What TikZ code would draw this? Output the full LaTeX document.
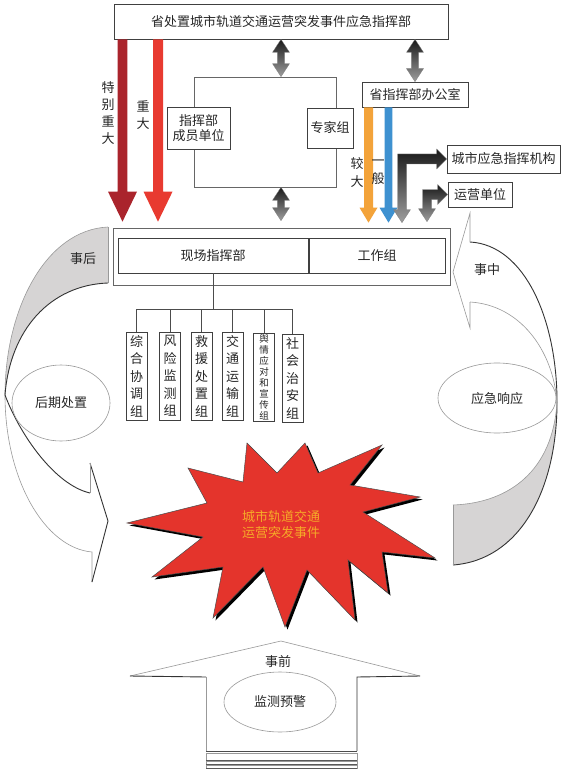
\documentclass[tikz,border=0pt]{standalone}
\usepackage{fontspec}
\newfontfamily\cjk{Noto Sans CJK SC}
\usetikzlibrary{calc}
\definecolor{arrDarkRed}{RGB}{170,36,44}
\definecolor{arrRed}{RGB}{232,58,48}
\definecolor{arrOrange}{RGB}{243,163,58}
\definecolor{arrBlue}{RGB}{62,145,208}
\definecolor{starRed}{RGB}{228,52,44}
\definecolor{starText}{RGB}{246,170,40}
\definecolor{crescentGray}{RGB}{214,212,212}
% single vertical arrow: style, start, tip, shaft half, head half, head length
\newcommand\myvarrow[6]{%
  \path[#1] let \p1=(#2), \p2=(#3) in
   (\x1-#4,\y1) -- (\x1+#4,\y1) -- (\x1+#4,\y2+#6) -- (\x1+#5,\y2+#6) -- (\x1,\y2)
   -- (\x1-#5,\y2+#6) -- (\x1-#4,\y2+#6) -- cycle;}
% double vertical arrow: style, top tip, bottom tip, shaft half, head half, head length
\newcommand\mydblarrow[6]{%
  \path[#1] let \p1=(#2), \p2=(#3) in
   (\x1,\y1) -- (\x1+#5,\y1-#6) -- (\x1+#4,\y1-#6) -- (\x1+#4,\y2+#6) -- (\x1+#5,\y2+#6)
   -- (\x1,\y2) -- (\x1-#5,\y2+#6) -- (\x1-#4,\y2+#6) -- (\x1-#4,\y1-#6) -- (\x1-#5,\y1-#6) -- cycle;}
% elbow arrow: style, corner, right tip, bottom tip
\newcommand\myelbow[4]{%
  \path[#1] let \p1=(#2), \p2=(#3), \p3=(#4) in
   (\x1-4.5pt,\y1+5pt) -- (\x2-10pt,\y1+5pt) -- (\x2-10pt,\y1+10pt) -- (\x2,\y1)
   -- (\x2-10pt,\y1-10pt) -- (\x2-10pt,\y1-5pt) -- (\x1+4.5pt,\y1-5pt)
   -- (\x1+4.5pt,\y3+13pt) -- (\x1+8.5pt,\y3+13pt) -- (\x1,\y3) -- (\x1-8.5pt,\y3+13pt)
   -- (\x1-4.5pt,\y3+13pt) -- cycle;}
\begin{document}
\begin{tikzpicture}[x=1pt,y=-1pt,
  every node/.style={font=\cjk\fontsize{13}{15}\selectfont, text=black!85},
  box/.style={draw=black!75, line width=0.7pt, fill=white, inner sep=0pt, align=center},
  vbox/.style={box, minimum width=21pt, minimum height=88pt, font=\cjk\fontsize{13}{17.5}\selectfont},
  lbl/.style={inner sep=0pt, align=center, font=\cjk\fontsize{13}{17}\selectfont},
  edgeLight/.style={draw=black!40, line width=0.6pt},
  edgeDark/.style={draw=black!80, line width=0.9pt},
  grayArrow/.style={top color=black!90, bottom color=black!38, draw=black!50, line width=0.3pt},
  tree/.style={draw=black!70, line width=0.7pt},
  ell/.style={draw=black!40, line width=0.6pt}
]
\useasboundingbox (0,0) rectangle (568,770);
\fill[white] (0,0) rectangle (568,770);

% ---------- left curved arrow (after) ----------
\fill[white] (5,395) .. controls (5,480) and (45,548) .. (92,552) -- (92,582) -- (108,521)
  -- (90,463) -- (90,493) .. controls (55,485) and (20,435) .. (5,395) -- cycle;
\fill[crescentGray] (108,227) .. controls (45,230) and (5,310) .. (5,395)
  .. controls (10,330) and (50,285) .. (108,283) -- cycle;
\path[edgeLight] (108,227) .. controls (45,230) and (5,310) .. (5,395)
  .. controls (5,480) and (45,548) .. (92,552) -- (92,582);
\path[edgeDark] (108,283) .. controls (50,285) and (10,330) .. (5,395)
  .. controls (20,435) and (55,485) .. (90,493);
\path[edgeDark] (90,463) -- (108,521) -- (92,582);
\path[edgeLight] (90,463) -- (90,493);
\path[edgeLight] (108,227) -- (108,283);

% ---------- right curved arrow (during) ----------
\fill[white] (470,242) .. controls (525,245) and (557,320) .. (557,402)
  .. controls (553,350) and (520,305) .. (470,302) -- (470,328) -- (453,272) -- (470,213) -- cycle;
\fill[crescentGray] (557,402) .. controls (557,490) and (520,560) .. (453,565) -- (453,505)
  .. controls (510,503) and (553,470) .. (557,402) -- cycle;
\path[edgeDark] (470,242) .. controls (525,245) and (557,320) .. (557,402)
  .. controls (557,490) and (520,560) .. (453,565);
\path[edgeLight] (470,302) .. controls (520,305) and (553,350) .. (557,402);
\path[edgeLight] (453,505) .. controls (510,503) and (553,470) .. (557,402);
\path[edgeLight] (470,242) -- (470,213) -- (453,272) -- (470,328) -- (470,302);
\path[edgeLight] (453,505) -- (453,565);

% ---------- bottom house arrow (before) ----------
\fill[white] (206,750) -- (206,677) -- (130,676) -- (281,641) -- (420,676) -- (357,677) -- (357,750) -- cycle;
\path[edgeLight] (130,676) -- (281,641) -- (420,676);
\path[edgeDark] (130,676) -- (206,677);
\path[edgeDark] (420,676) -- (357,677) -- (357,751);
\path[edgeLight] (206,677) -- (206,751);
\path[draw=black!70, line width=0.8pt] (206,751) -- (357,751);
\foreach \ya/\yb in {753/760, 761.5/764.5, 765.5/768}{
  \path[fill=white, draw=black!40, line width=0.5pt] (206,\ya) rectangle (357,\yb);
  \path[draw=black!65, line width=0.6pt] (206,\yb) -- (357,\yb);
}

% ---------- ellipses ----------
\draw[ell] (61,403) ellipse [x radius=49pt, y radius=38pt];
\node (hq) at (61,403) {后期处置};
\draw[ell] (497,398) ellipse [x radius=59pt, y radius=35pt];
\node (yj) at (497,399) {应急响应};
\draw[ell] (280,702) ellipse [x radius=56pt, y radius=30pt];
\node (jc) at (280,702) {监测预警};
\node (sh) at (83,259) {事后};
\node (sz) at (487,270) {事中};
\node (sq) at (278,662) {事前};

% ---------- boxes ----------
\node[box, minimum width=334pt, minimum height=35pt] (top) at (281,21.5) {省处置城市轨道交通运营突发事件应急指挥部};
\node[draw=black!60, line width=0.6pt, minimum width=142pt, minimum height=110pt, inner sep=0pt] (ctr) at (265,132) {};
\node[box, minimum width=63pt, minimum height=42pt] (mem) at (198.5,128) {指挥部\\成员单位};
\node[box, minimum width=46pt, minimum height=40pt] (exp) at (330,128) {专家组};
\node[box, minimum width=106pt, minimum height=25pt] (off) at (415,94.5) {省指挥部办公室};
\node[box, minimum width=113pt, minimum height=28pt] (city) at (503.5,159) {城市应急指挥机构};
\node[box, minimum width=64pt, minimum height=25pt] (op) at (480,194.5) {运营单位};
\node[draw=black!60, line width=0.7pt, fill=white, minimum width=337pt, minimum height=57pt, inner sep=0pt] (site) at (281.5,256.5) {};
\node[box, line width=0.9pt, minimum width=190pt, minimum height=35pt] (xc) at (213,255.5) {现场指挥部};
\node[box, line width=0.9pt, minimum width=136pt, minimum height=35pt] (gz) at (377,255.5) {工作组};

% ---------- working groups ----------
\node[vbox] (g1) at (136.5,376) {综\\合\\协\\调\\组};
\node[vbox] (g2) at (170,376) {风\\险\\监\\测\\组};
\node[vbox] (g3) at (201.5,376) {救\\援\\处\\置\\组};
\node[vbox] (g4) at (232.5,376) {交\\通\\运\\输\\组};
\node[vbox, font=\cjk\fontsize{9.5}{11}\selectfont] (g5) at (264,377) {舆\\情\\应\\对\\和\\宣\\传\\组};
\node[vbox] (g6) at (292.5,378) {社\\会\\治\\安\\组};
\coordinate (bus) at (213,309);
\path[tree] (xc.south) -- (bus);
\path[tree] (g1.north) -- (g1.north |- bus) -- (g6.north |- bus) -- (g6.north);
\foreach \g in {g2,g3,g4,g5}{\path[tree] (\g.north) -- (\g.north |- bus);}

% ---------- coloured arrows ----------
\coordinate (xdr) at (122.5,0);
\coordinate (xr) at (158,0);
\coordinate (xo) at (368.5,0);
\coordinate (xb) at (388.5,0);
\myvarrow{fill=arrDarkRed}{top.south -| xdr}{$(site.north -| xdr)+(0,-6)$}{4.8pt}{14.5pt}{30pt}
\myvarrow{fill=arrRed}{top.south -| xr}{$(site.north -| xr)+(0,-6)$}{5pt}{14.5pt}{30pt}
\myvarrow{fill=arrOrange}{off.south -| xo}{$(site.north -| xo)+(0,-5)$}{4.5pt}{9pt}{15pt}
\myvarrow{fill=arrBlue}{off.south -| xb}{$(site.north -| xb)+(0,-5)$}{3.8pt}{9pt}{15pt}
\node[lbl] (l1) at (108,113) {特\\别\\重\\大};
\node[lbl] (l2) at (143,115) {重\\大};
\node[lbl, font=\cjk\fontsize{13}{18}\selectfont] (l3) at (357,173) {较\\大};
\node[lbl, font=\cjk\fontsize{13}{18}\selectfont] (l4) at (378,172) {一\\般};

% ---------- gray double arrows ----------
\coordinate (xa) at (281,0);
\mydblarrow{grayArrow}{top.south -| xa}{ctr.north -| xa}{3.7pt}{8.5pt}{13pt}
\mydblarrow{grayArrow}{ctr.south -| xa}{$(site.north -| xa)+(0,-7)$}{3.7pt}{8.5pt}{13pt}
\mydblarrow{grayArrow}{top.south -| off.north}{off.north}{3.7pt}{8.5pt}{13pt}

% ---------- elbow arrows ----------
\coordinate (e1) at (402,0);
\coordinate (e2) at (427,0);
\myelbow{grayArrow}{e1 |- city.west}{city.west}{$(site.north -| e1)+(0,-5)$}
\myelbow{grayArrow}{e2 |- op.west}{op.west}{$(site.north -| e2)+(0,-6)$}

% ---------- star (incident) ----------
\begin{scope}[shift={(2.5,2.5)}]
\fill[black] (127,523) -- (207,503) -- (188,468) -- (243,482) -- (247,443) -- (277,473) -- (305,443) -- (318,473) -- (382,445) -- (350,485) -- (420,497) -- (363,512) -- (435,558) -- (382,552) -- (388,593) -- (348,560) -- (355,620) -- (307,570) -- (285,627) -- (263,567) -- (213,618) -- (223,567) -- (152,577) -- (203,537) -- cycle;
\end{scope}
\path[fill=starRed, draw=black!70, line width=0.5pt] (127,523) -- (207,503) -- (188,468) -- (243,482) -- (247,443) -- (277,473) -- (305,443) -- (318,473) -- (382,445) -- (350,485) -- (420,497) -- (363,512) -- (435,558) -- (382,552) -- (388,593) -- (348,560) -- (355,620) -- (307,570) -- (285,627) -- (263,567) -- (213,618) -- (223,567) -- (152,577) -- (203,537) -- cycle;
\node[align=center, text=starText, font=\cjk\fontsize{13}{16}\selectfont] (ev) at (281,525) {城市轨道交通\\运营突发事件};
\end{tikzpicture}
\end{document}
